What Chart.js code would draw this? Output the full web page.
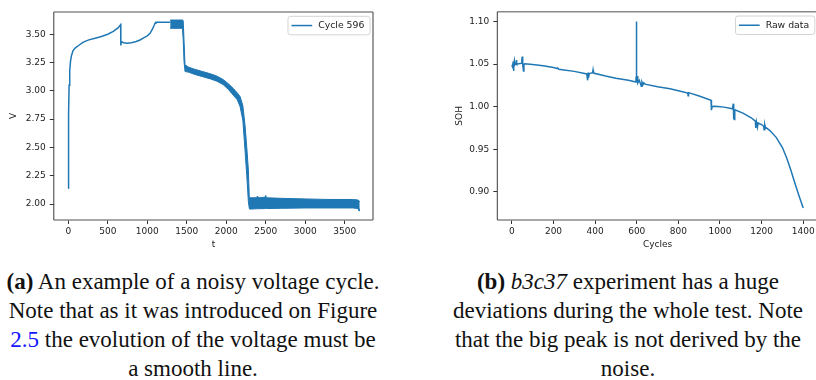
<!DOCTYPE html>
<html>
<head>
<meta charset="utf-8">
<script src="https://cdn.jsdelivr.net/npm/chart.js@4.4.1/dist/chart.umd.min.js"></script>
<style>
  html, body { margin: 0; padding: 0; background: #fff; }
  body { width: 816px; height: 380px; overflow: hidden; position: relative; }
  canvas { position: absolute; top: 0; }
  #voltage { left: 0; }
  #soh { left: 440px; }
  .cap { position: absolute; width: 560px; top: 266.5px; font-family: 'Liberation Serif', serif;
         font-size: 23px; line-height: 29.3px; color: #111; white-space: nowrap; text-align: center; }
  .ref { color: #1414ff; }
</style>
</head>
<body>
<canvas id="voltage" width="380" height="260"></canvas>
<canvas id="soh" width="380" height="260"></canvas>

<div class="cap" id="capA" style="left:-87px">
  <div><b>(a)</b> An example of a noisy voltage cycle.</div>
  <div>Note that as it was introduced on Figure</div>
  <div><span class="ref">2.5</span> the evolution of the voltage must be</div>
  <div>a smooth line.</div>
</div>
<div class="cap" id="capB" style="left:348px">
  <div><b>(b)</b> <i>b3c37</i> experiment has a huge</div>
  <div>deviations during the whole test. Note</div>
  <div>that the big peak is not derived by the</div>
  <div>noise.</div>
</div>

<script>
// ---- left: voltage of cycle 596 ----
const voltT = [0, 2, 5, 10, 18, 28, 40, 60, 90, 130, 190, 260, 340, 420, 500, 570, 630, 663, 665, 672,
               700, 739, 800, 860, 908, 960, 1000, 1035, 1065, 1085, 1098, 1110, 1290];
const voltV = [2.14, 2.40, 2.80, 3.05, 3.18, 3.26, 3.31, 3.355, 3.38, 3.40, 3.43, 3.45, 3.465, 3.48, 3.50, 3.525, 3.555, 3.585, 3.40, 3.434,
               3.425, 3.42, 3.425, 3.435, 3.449, 3.47, 3.485, 3.508, 3.545, 3.575, 3.596, 3.605, 3.605];

// noisy part: upper and lower edge of the band
const noiseT =    [1290, 1445, 1455, 1465, 1478, 1520, 1600, 1700, 1800, 1880, 1960, 2030, 2090, 2140, 2175, 2210, 2237, 2260, 2280, 2292,
                   2300, 2380, 2395, 2410, 2490, 2500, 2510, 2700, 3000, 3300, 3600, 3670, 3680, 3690];
const noiseHigh = [3.625, 3.625, 3.62, 3.45, 3.23, 3.21, 3.19, 3.17, 3.15, 3.13, 3.10, 3.06, 3.02, 2.98, 2.95, 2.87, 2.70, 2.50, 2.30, 2.05,
                   2.055, 2.055, 2.07, 2.055, 2.06, 2.075, 2.055, 2.05, 2.045, 2.04, 2.04, 2.035, 2.035, 2.02];
const noiseLow =  [3.552, 3.552, 3.45, 3.26, 3.17, 3.165, 3.145, 3.125, 3.105, 3.085, 3.055, 3.01, 2.96, 2.92, 2.86, 2.74, 2.48, 2.25, 2.02, 1.96,
                   1.955, 1.958, 1.958, 1.958, 1.96, 1.96, 1.96, 1.962, 1.965, 1.965, 1.965, 1.96, 1.94, 1.94];

const voltXTicks = [0, 500, 1000, 1500, 2000, 2500, 3000, 3500];
const voltXLabels = ['0', '500', '1000', '1500', '2000', '2500', '3000', '3500'];
const voltYTicks = [2.00, 2.25, 2.50, 2.75, 3.00, 3.25, 3.50];
const voltYLabels = ['2.00', '2.25', '2.50', '2.75', '3.00', '3.25', '3.50'];

// ---- right: SOH of b3c37 ----
const sohCycles = [0, 3, 5, 6, 8, 10, 12, 14, 20, 22, 24, 45, 48, 50, 52, 56, 58, 62,
                   100, 150, 200, 215, 220, 225, 300, 360, 364, 366, 368, 372, 388, 390, 392,
                   450, 500, 560, 596, 597, 598, 600, 602, 604, 606, 612, 618, 622, 625, 630, 634, 640,
                   700, 760, 820, 845, 847, 849, 900, 957, 959, 962, 970, 990, 1020, 1060, 1064, 1066, 1068, 1070, 1072,
                   1110, 1150, 1170, 1172, 1175, 1180, 1183, 1190, 1200, 1210, 1212, 1215, 1218,
                   1240, 1270, 1300, 1320, 1340, 1360, 1380, 1400];
const sohValues = [1.047, 1.049, 1.045, 1.053, 1.042, 1.050, 1.054, 1.049, 1.051, 1.055, 1.050, 1.051, 1.055, 1.059, 1.050, 1.042, 1.050, 1.0505,
                   1.0495, 1.048, 1.046, 1.045, 1.0455, 1.044, 1.0415, 1.0385, 1.031, 1.040, 1.034, 1.039, 1.040, 1.043, 1.0395,
                   1.036, 1.0335, 1.031, 1.029, 1.035, 1.100, 1.029, 1.036, 1.030, 1.028, 1.031, 1.027, 1.024, 1.029, 1.026, 1.028, 1.0265,
                   1.0235, 1.021, 1.0175, 1.016, 1.013, 1.0165, 1.0125, 1.0075, 0.996, 1.000, 1.0005, 1.0003, 0.9995, 0.9975, 1.0035, 0.985, 0.997, 0.984, 0.9965,
                   0.9925, 0.987, 0.983, 0.975, 0.982, 0.976, 0.981, 0.980, 0.979, 0.977, 0.973, 0.979, 0.976,
                   0.972, 0.964, 0.952, 0.940, 0.926, 0.910, 0.895, 0.881];

const sohXTicks = [0, 200, 400, 600, 800, 1000, 1200, 1400];
const sohXLabels = ['0', '200', '400', '600', '800', '1000', '1200', '1400'];
const sohYTicks = [0.90, 0.95, 1.00, 1.05, 1.10];
const sohYLabels = ['0.90', '0.95', '1.00', '1.05', '1.10'];

const BLUE = '#1f77b4';
const TEXT = '#222';
const tickFont = { family: 'DejaVu Sans', size: 9 };
const titleFont = { family: 'DejaVu Sans', size: 9 };

function pairs(xs, ys) { return xs.map((x, i) => ({ x: x, y: ys[i] })); }

function makeScale(o) {
  return {
    type: 'linear',
    min: o.min,
    max: o.max,
    afterBuildTicks: s => { s.ticks = o.ticks.map(v => ({ value: v })); },
    afterFit: s => {
      if (o.width) s.width = o.width;
      if (o.height) s.height = o.height;
    },
    grid: { drawOnChartArea: false, drawTicks: true, tickLength: 4, tickColor: '#333', tickWidth: 1 },
    border: { display: false },
    ticks: { font: tickFont, color: TEXT, padding: o.pad, autoSkip: false, maxRotation: 0,
             callback: (v, i) => o.labels[i] },
    title: { display: true, text: o.title, font: titleFont, color: TEXT, padding: o.titlePad }
  };
}

// matplotlib-like frame around the axes
const spines = {
  id: 'spines',
  afterDatasetsDraw(chart) {
    const { ctx, chartArea: a } = chart;
    ctx.save();
    ctx.strokeStyle = '#8a8a8a';
    ctx.lineWidth = 1.5;
    ctx.beginPath();
    ctx.moveTo(a.left, a.top); ctx.lineTo(a.right, a.top);
    ctx.moveTo(a.left, a.bottom); ctx.lineTo(a.right, a.bottom);
    ctx.stroke();
    ctx.strokeStyle = '#3a3a3a';
    ctx.lineWidth = 1;
    ctx.beginPath();
    ctx.moveTo(a.left, a.top); ctx.lineTo(a.left, a.bottom);
    ctx.moveTo(a.right, a.top); ctx.lineTo(a.right, a.bottom);
    ctx.stroke();
    ctx.restore();
  }
};

// legend box in the upper right corner, like plt.legend()
const cornerLegend = {
  id: 'cornerLegend',
  afterDraw(chart) {
    const ds = chart.data.datasets[0];
    const { ctx, chartArea: a } = chart;
    ctx.save();
    ctx.font = '9.3px "DejaVu Sans"';
    const tw = ctx.measureText(ds.label).width;
    const w = 3.5 + 20.7 + 6 + tw + 5.7, h = 18.5;
    const x = a.right - 3 - w, y = a.top + 4.3;
    ctx.beginPath();
    ctx.roundRect(x, y, w, h, 2.5);
    ctx.fillStyle = 'rgba(255,255,255,0.85)';
    ctx.fill();
    ctx.strokeStyle = '#d4d4d4';
    ctx.lineWidth = 1;
    ctx.stroke();
    const cy = y + h / 2;
    ctx.strokeStyle = BLUE;
    ctx.lineWidth = 1.5;
    ctx.beginPath();
    ctx.moveTo(x + 3.5, cy); ctx.lineTo(x + 24.2, cy);
    ctx.stroke();
    ctx.fillStyle = TEXT;
    ctx.textBaseline = 'middle';
    ctx.fillText(ds.label, x + 30.2, cy + 0.5);
    ctx.restore();
  }
};

const common = {
  responsive: false,
  animation: false,
  devicePixelRatio: 1,
  plugins: { legend: { display: false }, tooltip: { enabled: false } },
  elements: { point: { radius: 0 }, line: { tension: 0 } }
};

new Chart(document.getElementById('voltage'), {
  type: 'line',
  data: {
    datasets: [
      { label: 'Cycle 596', data: pairs(voltT, voltV), borderColor: BLUE, borderWidth: 1.5, fill: false },
      { label: 'noise high', data: pairs(noiseT, noiseHigh), borderColor: BLUE, borderWidth: 1, fill: false },
      { label: 'noise low', data: pairs(noiseT, noiseLow), borderColor: BLUE, borderWidth: 1,
        backgroundColor: BLUE, fill: '-1' }
    ]
  },
  options: Object.assign({}, common, {
    layout: { padding: { left: 0, top: 12, right: 7, bottom: 0 } },
    scales: {
      x: makeScale({ min: -183.6, max: 3858, ticks: voltXTicks, labels: voltXLabels, pad: 2, height: 40,
                     title: 't', titlePad: { top: 0, bottom: 9.6 } }),
      y: makeScale({ min: 1.8587, max: 3.696, ticks: voltYTicks, labels: voltYLabels, pad: 4, width: 53.8,
                     title: 'V', titlePad: { top: 8, bottom: 0 } })
    }
  }),
  plugins: [spines, cornerLegend]
});

new Chart(document.getElementById('soh'), {
  type: 'line',
  data: {
    datasets: [
      { label: 'Raw data', data: pairs(sohCycles, sohValues), borderColor: BLUE, borderWidth: 1.5, fill: false }
    ]
  },
  options: Object.assign({}, common, {
    layout: { padding: { left: 0, top: 11.7, right: 2.2, bottom: 0 } },
    scales: {
      x: makeScale({ min: -70, max: 1470, ticks: sohXTicks, labels: sohXLabels, pad: 2, height: 40,
                     title: 'Cycles', titlePad: { top: 0, bottom: 9.6 } }),
      y: makeScale({ min: 0.8669, max: 1.1116, ticks: sohYTicks, labels: sohYLabels, pad: 4, width: 57.3,
                     title: 'SOH', titlePad: { top: 13.9, bottom: 0 } })
    }
  }),
  plugins: [spines, cornerLegend]
});
</script>
</body>
</html>
